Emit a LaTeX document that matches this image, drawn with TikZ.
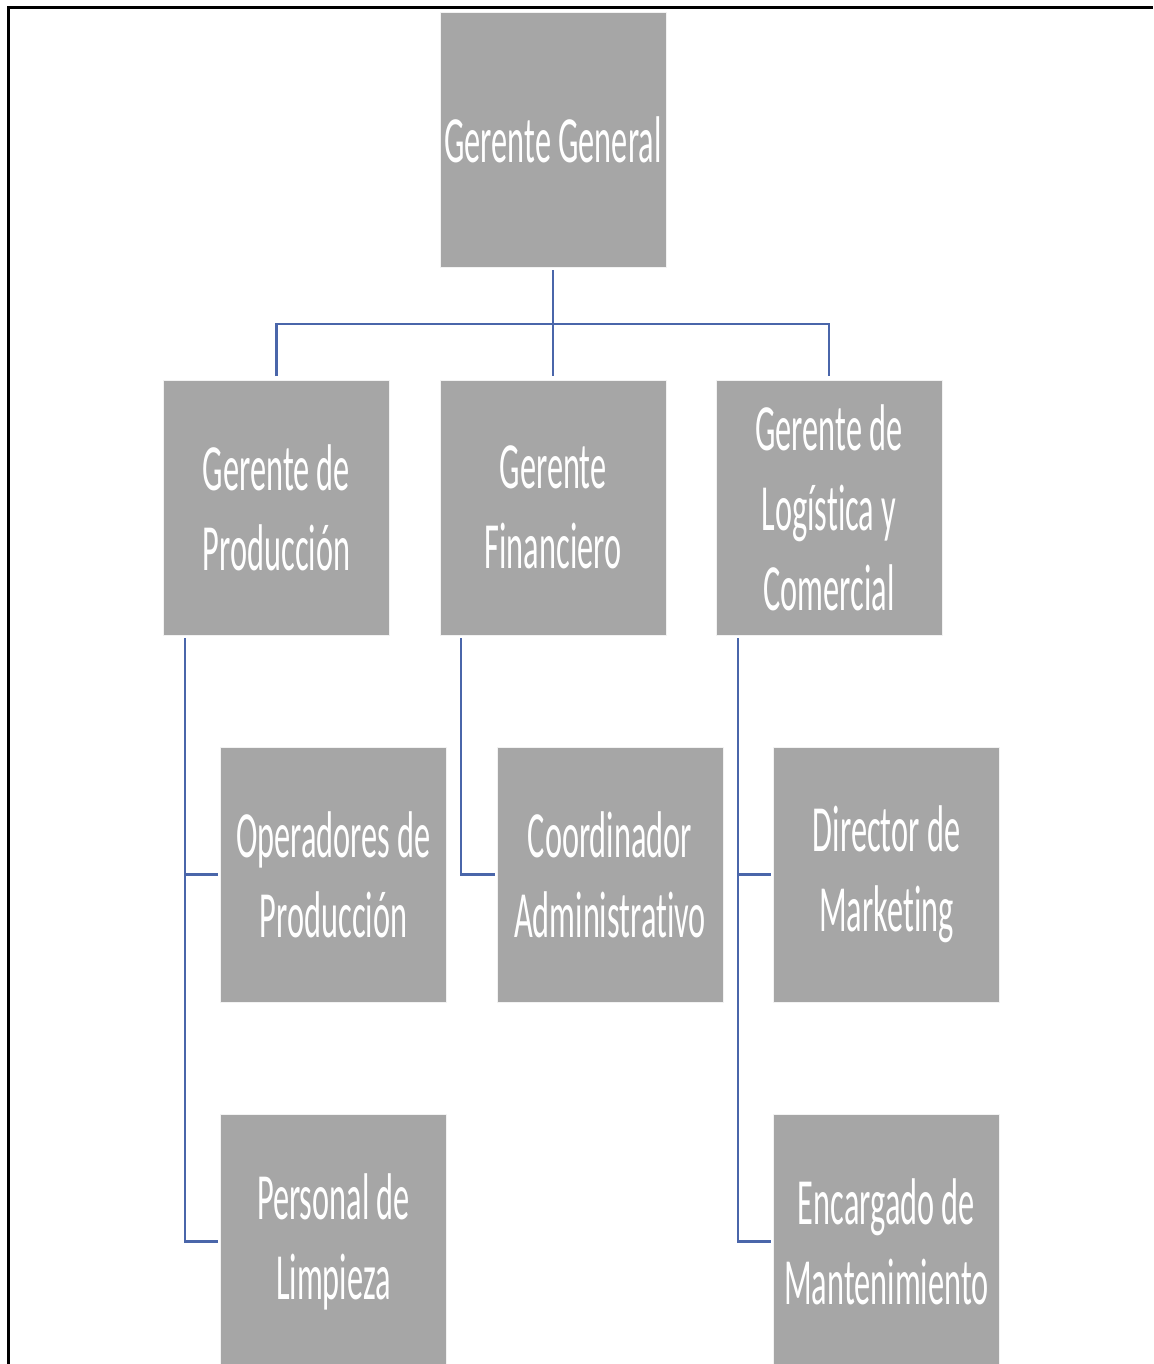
\documentclass[tikz,border=0pt]{standalone}
\usepackage{fontspec}
\setmainfont{Carlito}[FakeStretch=0.49, Ligatures=NoCommon]
\definecolor{boxgray}{HTML}{A6A6A6}
\definecolor{connblue}{RGB}{74,102,170}
\begin{document}
\begin{tikzpicture}[x=1pt,y=-1pt,
  box/.style={rectangle, fill=boxgray, draw=white!85!boxgray, line width=0.6pt, minimum width=226pt, minimum height=255pt, inner sep=0pt, align=center, text=white, font=\fontsize{66}{80}\selectfont},
  conn/.style={draw=connblue, line width=2.3pt}]
\useasboundingbox (0,0) rectangle (1153,1364);
\clip (0,0) rectangle (1153,1364);
\fill[white] (0,0) rectangle (1153,1364);
\node[box] (gg) at (553,139.5) {Gerente General};
\node[box] (gp) at (276.5,507.5) {Gerente de\\Producción};
\node[box] (gf) at (553,507.5) {Gerente\\Financiero};
\node[box] (gl) at (829,507.5) {Gerente de\\Logística y\\Comercial};
\node[box] (op) at (333.5,874.5) {Operadores de\\Producción};
\node[box] (ca) at (610,874.5) {Coordinador\\Administrativo};
\node[box] (dm) at (886.5,874.5) {Director de\\Marketing};
\node[box] (pl) at (333.5,1241.5) {Personal de\\Limpieza};
\node[box] (em) at (886.5,1241.5) {Encargado de\\Mantenimiento};
% top level connectors
\coordinate (bus) at (553,324);
\coordinate (ggb) at (553,270);
\coordinate (gft) at (553,376);
\coordinate (gpt) at (276.5,376);
\coordinate (glt) at (829,376);
\draw[conn] (ggb) -- (gft);
\draw[conn] (gpt) -- (gpt |- bus) -- (glt |- bus) -- (glt);
% left branch
\coordinate (lp) at (185,638);
\coordinate (opw) at (218,874.5);
\coordinate (plw) at (218,1241.5);
\draw[conn] (lp) |- (plw);
\draw[conn] (lp |- opw) -- (opw);
% middle branch
\coordinate (mp) at (461,638);
\coordinate (caw) at (495,874.5);
\draw[conn] (mp) |- (caw);
% right branch
\coordinate (rp) at (738,638);
\coordinate (dmw) at (771,874.5);
\coordinate (emw) at (771,1241.5);
\draw[conn] (rp) |- (emw);
\draw[conn] (rp |- dmw) -- (dmw);
% frame
\draw[line width=3pt] (8.5,1364) -- (8.5,8) -- (1153,8);
\end{tikzpicture}
\end{document}
